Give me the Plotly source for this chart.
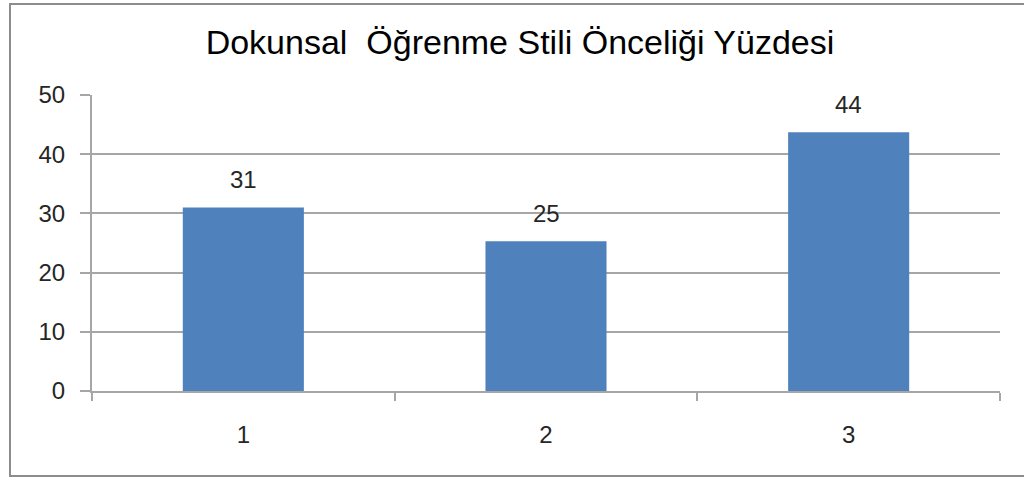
import plotly.graph_objects as go

categories = ["1", "2", "3"]
values = [31.0, 25.3, 43.7]
labels = ["31", "25", "44"]
y_ticks = [0, 10, 20, 30, 40, 50]
title_text = "Dokunsal  Öğrenme Stili Önceliği Yüzdesi"

W, H = 1024, 477
L, R, T, B = 92, 24, 95, 86
pw, ph = W - L - R, H - T - B

FONT = "Liberation Sans, Arial, sans-serif"
GRID = "#a6a6a6"
TXT = "#262626"

fig = go.Figure()
fig.add_trace(go.Bar(
    x=categories, y=values,
    marker=dict(color="#4f81bd", line=dict(width=0)),
    width=0.4,
    hoverinfo="skip",
))

for i, (v, t) in enumerate(zip(values, labels)):
    fig.add_annotation(x=i, y=v, text=t, showarrow=False, yanchor="bottom",
                       yshift=12, font=dict(family=FONT, size=24, color=TXT))

def px_x(p):
    return (p - L) / pw

def px_y(p):
    return (H - B - p) / ph

# outer chart border
fig.add_shape(type="rect", xref="paper", yref="paper",
              x0=px_x(10), x1=px_x(1040), y0=px_y(476), y1=px_y(4),
              line=dict(color="#8c8c8c", width=2), layer="below")

fig.update_layout(
    width=W, height=H,
    margin=dict(l=L, r=R, t=T, b=B, autoexpand=False),
    paper_bgcolor="white", plot_bgcolor="white",
    showlegend=False,
    title=dict(text=title_text, x=520 / W, xanchor="center", xref="container",
               y=1 - 42 / H, yanchor="middle", yref="container",
               font=dict(family=FONT, size=34, color="#000000")),
)
fig.update_xaxes(
    type="category", tickson="boundaries", ticks="outside", ticklen=8,
    tickwidth=2, tickcolor=GRID, showline=True, linecolor=GRID, linewidth=2,
    showgrid=False, ticklabelstandoff=21, range=[-0.5, len(categories) - 0.5],
    tickfont=dict(family=FONT, size=24, color=TXT),
)
fig.update_yaxes(
    range=[0, 50], tickvals=y_ticks, ticks="outside", ticklen=10, tickwidth=2,
    tickcolor=GRID, showline=True, linecolor=GRID, linewidth=2,
    showgrid=True, gridcolor=GRID, gridwidth=2, zeroline=False,
    ticklabelstandoff=10,
    tickfont=dict(family=FONT, size=24, color=TXT),
)

fig.write_html("out.html", config={"displayModeBar": False},
               post_script="document.body.style.margin='0';")
